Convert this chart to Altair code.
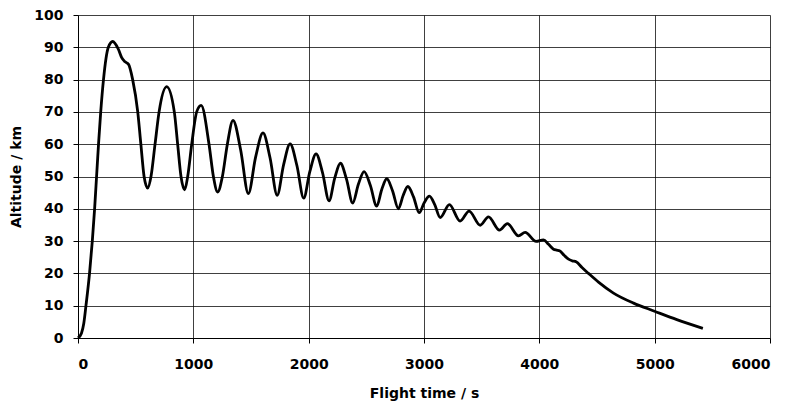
import altair as alt
import pandas as pd

# Flight time (s) and altitude (km)
time_s = [
    0, 30, 50, 69, 100, 124, 144, 161, 178, 197, 221, 263, 301, 350, 379, 408, 437,
    474, 518, 545, 573, 604,
    633, 668, 703, 769, 835, 864, 893, 925,
    951, 986, 1029, 1068, 1136, 1174, 1211,
    1252, 1295, 1344, 1410, 1477,
    1540, 1604, 1665, 1727, 1783, 1839, 1898, 1957, 2010, 2064, 2120, 2177,
    2226, 2275, 2328, 2382, 2431, 2481, 2535, 2590, 2633, 2677, 2727, 2778,
    2819, 2860, 2909, 2958, 3002, 3047, 3093, 3140,
    3220, 3313, 3391, 3487, 3559, 3654, 3723, 3819, 3877, 3972, 4036,
    4080, 4123, 4150, 4175, 4215, 4253, 4285, 4319, 4370, 4426, 4513,
    4643, 4817, 4999, 5192, 5418,
]
altitude_km = [
    0, 1.5, 4.5, 10, 20, 30, 40, 50, 60, 70, 80, 90, 91.8, 89.4, 86.8, 85.5, 84.8,
    80, 70, 60, 50, 46.4,
    50, 60, 70, 77.8, 70, 60, 50, 45.9,
    50, 60, 70, 72.0, 60, 50, 45.2,
    50, 60, 67.4, 58.3, 44.7,
    56.0, 63.5, 55.8, 44.2, 53.7, 60.1, 53.4, 43.3, 51.5, 57.0, 51.2, 42.5,
    49.5, 54.1, 49.2, 41.8, 47.6, 51.5, 47.2, 40.8, 45.9, 49.3, 45.6, 40.0,
    44.1, 46.9, 43.7, 38.8, 41.9, 43.9, 41.3, 37.3,
    41.3, 36.2, 39.3, 34.9, 37.5, 33.4, 35.4, 31.6, 32.7, 29.9, 30.4,
    29.0, 27.5, 27.2, 27.0, 25.6, 24.4, 23.9, 23.6, 21.8, 20.0, 17.3,
    13.9, 10.8, 8.3, 5.7, 3.0,
]

x_ticks = [0, 1000, 2000, 3000, 4000, 5000, 6000]
y_ticks = [0, 10, 20, 30, 40, 50, 60, 70, 80, 90, 100]

df = pd.DataFrame({"t": time_s, "h": altitude_km})

FONT = "DejaVu Sans"

axis_common = dict(
    labelFont=FONT, labelFontSize=14, labelFontWeight="bold", labelColor="#000",
    titleFont=FONT, titleFontSize=14, titleFontWeight="bold", titleColor="#000",
    grid=True, gridColor="#000", gridOpacity=0.75, gridWidth=1,
    domainColor="#000", domainWidth=1, tickColor="#000", tickSize=5, tickWidth=1,
)

chart = alt.Chart(df).mark_line(
    color="#000", strokeWidth=2.8, interpolate="monotone"
).encode(
    x=alt.X("t:Q", scale=alt.Scale(domain=[0, 6000], nice=False),
            axis=alt.Axis(values=x_ticks, title="Flight time / s", format="d",
                          labelPadding=14, titlePadding=15, **axis_common)),
    y=alt.Y("h:Q", scale=alt.Scale(domain=[0, 100], nice=False),
            axis=alt.Axis(values=y_ticks, title="Altitude / km", format="d",
                          labelPadding=10, titlePadding=10, **axis_common)),
).properties(
    width=692, height=323,
    autosize=alt.AutoSizeParams(type="none"),
    padding={"left": 70, "top": 7, "right": 13, "bottom": 66},
).configure_view(stroke=None)

chart.save("out.html", embed_options={"renderer": "svg", "actions": False})
